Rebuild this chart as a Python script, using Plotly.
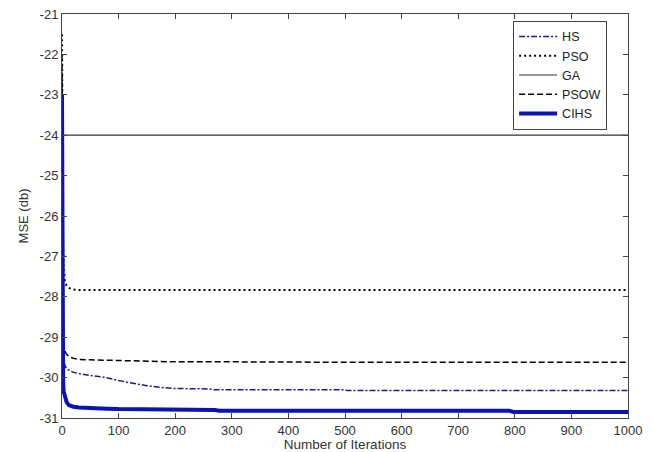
import plotly.graph_objects as go

# Iteration positions and MSE (db) values
hs_x = [0, 1, 2, 4, 7, 10, 20, 30, 50, 70, 90, 100, 120, 150, 180, 200, 260, 268, 300, 400, 495, 505, 600, 700, 800, 900, 1000]
hs_y = [-22.5, -28.5, -29.5, -29.65, -29.75, -29.8, -29.87, -29.9, -29.95, -29.98, -30.03, -30.07, -30.13, -30.2, -30.25, -30.27, -30.28, -30.3, -30.3, -30.3, -30.3, -30.32, -30.32, -30.32, -30.32, -30.32, -30.32]

pso_x = [0, 1, 2, 3, 5, 8, 12, 20, 30, 50, 100, 200, 400, 600, 800, 1000]
pso_y = [-21.5, -25.0, -26.8, -27.3, -27.6, -27.72, -27.78, -27.82, -27.83, -27.83, -27.83, -27.83, -27.83, -27.83, -27.83, -27.83]

ga_x = [0, 1000]
ga_y = [-24.0, -24.0]

psow_x = [0, 1, 2, 4, 7, 10, 15, 20, 30, 50, 80, 100, 130, 140, 200, 300, 400, 500, 600, 700, 800, 900, 1000]
psow_y = [-22.0, -27.5, -29.1, -29.3, -29.4, -29.45, -29.5, -29.52, -29.55, -29.56, -29.57, -29.57, -29.58, -29.6, -29.61, -29.61, -29.62, -29.62, -29.62, -29.62, -29.62, -29.62, -29.62]

cihs_x = [0, 1, 2, 3, 5, 8, 12, 20, 30, 50, 80, 100, 128, 135, 270, 278, 500, 790, 798, 900, 1000]
cihs_y = [-23.0, -29.0, -30.1, -30.35, -30.5, -30.6, -30.68, -30.72, -30.74, -30.76, -30.77, -30.78, -30.78, -30.8, -30.8, -30.82, -30.82, -30.82, -30.85, -30.85, -30.85]

x_ticks = [0, 100, 200, 300, 400, 500, 600, 700, 800, 900, 1000]
y_ticks = [-31, -30, -29, -28, -27, -26, -25, -24, -23, -22, -21]

FONT = "Liberation Sans, Arial"

fig = go.Figure()
fig.add_trace(go.Scatter(x=hs_x, y=hs_y, mode="lines", name="HS",
                         line=dict(color="#1c1c80", width=1.5, dash="6px,2px,2px,2px")))
fig.add_trace(go.Scatter(x=pso_x, y=pso_y, mode="lines", name="PSO",
                         line=dict(color="black", width=2, dash="2px,3px")))
fig.add_trace(go.Scatter(x=ga_x, y=ga_y, mode="lines", name="GA",
                         line=dict(color="#333333", width=1.2)))
fig.add_trace(go.Scatter(x=psow_x, y=psow_y, mode="lines", name="PSOW",
                         line=dict(color="black", width=1.5, dash="6px,3px")))
fig.add_trace(go.Scatter(x=cihs_x, y=cihs_y, mode="lines", name="CIHS",
                         line=dict(color="#0a14b4", width=4)))

axis_common = dict(showgrid=False, zeroline=False, showline=True, linecolor="#444444",
                   linewidth=1, mirror="ticks", ticks="inside", ticklen=5, automargin=False,
                   ticklabeloverflow="allow",
                   tickcolor="#444444", tickfont=dict(family=FONT, size=13, color="#333333"))

fig.update_xaxes(range=[0, 1000], tickvals=x_ticks, ticktext=[str(v) for v in x_ticks],
                 title=dict(text="Number of Iterations", standoff=0,
                            font=dict(family=FONT, size=13.5, color="#333333")),
                 **axis_common)
fig.update_yaxes(range=[-31, -21], tickvals=y_ticks, ticktext=[str(v) for v in y_ticks],
                 title=dict(text="MSE (db)", standoff=8,
                            font=dict(family=FONT, size=13, color="#333333")),
                 **axis_common)

# page body has an 8px default margin, so the figure is sized to fit inside the window
fig.update_layout(
    width=646, height=444,
    margin=dict(l=54, r=26, t=6, b=34),
    paper_bgcolor="white", plot_bgcolor="white",
    showlegend=True,
    legend=dict(x=0.797, y=0.983, xanchor="left", yanchor="top",
                bgcolor="white", bordercolor="#444444", borderwidth=1,
                font=dict(family=FONT, size=12.5, color="#222222"),
                tracegroupgap=0, itemwidth=38),
)

fig.write_html("out.html")
